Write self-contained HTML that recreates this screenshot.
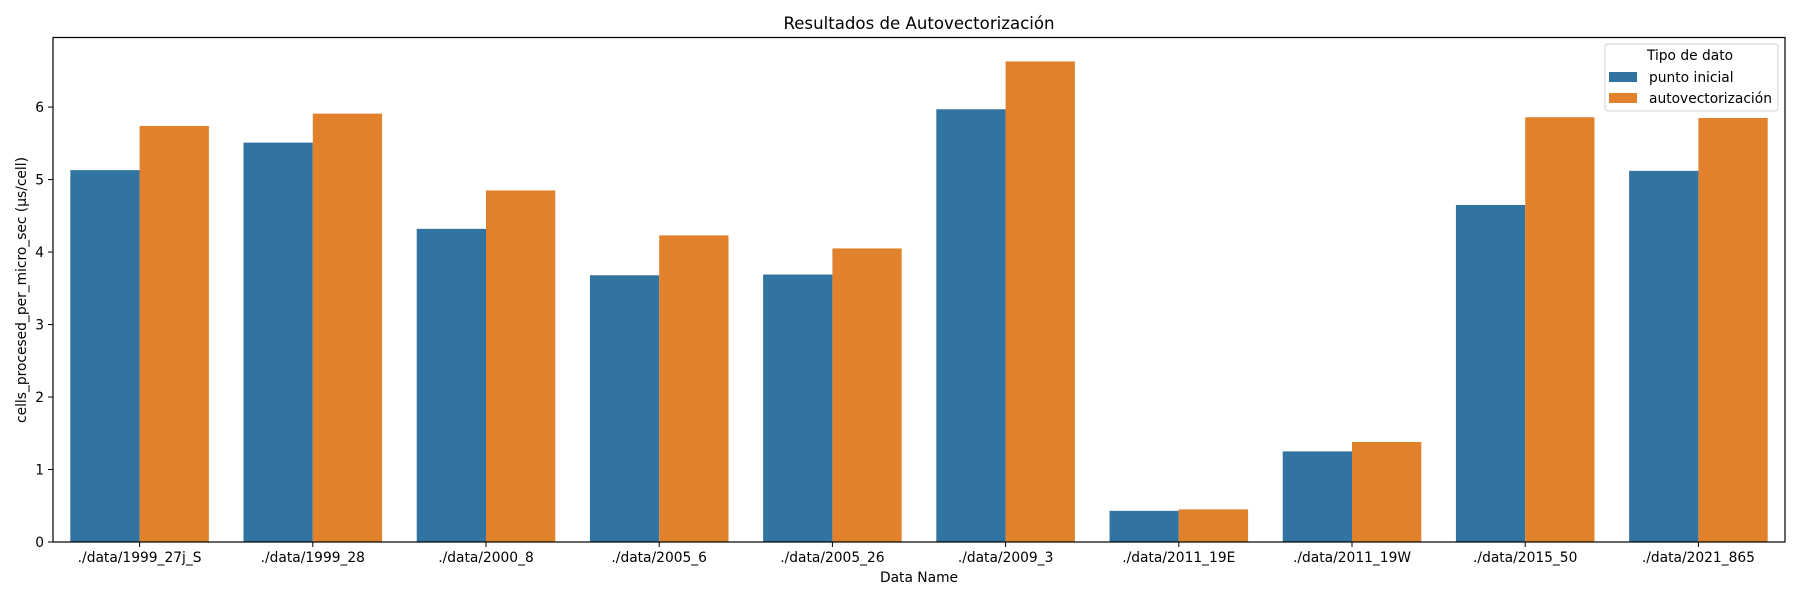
<!DOCTYPE html>
<html><head><meta charset="utf-8"><style>
html,body{margin:0;padding:0;background:#fff;}
svg{display:block;font-family:"DejaVu Sans","Liberation Sans",sans-serif;}
</style></head><body>
<svg id="chart" width="1800" height="600" viewBox="0 0 1800 600"></svg>
<script>
const categories = ["./data/1999_27j_S","./data/1999_28","./data/2000_8","./data/2005_6","./data/2005_26","./data/2009_3","./data/2011_19E","./data/2011_19W","./data/2015_50","./data/2021_865"];
const puntoInicial = [5.13,5.51,4.32,3.68,3.69,5.97,0.43,1.25,4.65,5.12];
const autovect = [5.74,5.91,4.85,4.23,4.05,6.63,0.45,1.38,5.86,5.85];
const yTicks = [0,1,2,3,4,5,6];
const seriesNames = ["punto inicial","autovectorización"];

const NS="http://www.w3.org/2000/svg";
const svg=document.getElementById('chart');
const L=53,R=1785,T=37.5,B=542,YMAX=6.96;
const xBand=i=>L+(R-L)/categories.length*i;
const bw=(R-L)/categories.length;
const y=v=>B-(B-T)*v/YMAX;
function mk(tag,attrs,parent){const e=document.createElementNS(NS,tag);for(const k in attrs)e.setAttribute(k,attrs[k]);(parent||svg).appendChild(e);return e;}
function txt(s,attrs){const e=mk('text',attrs);e.textContent=s;return e;}

const colors=["#3274a1","#e1812c"];
[puntoInicial,autovect].forEach((arr,si)=>{
  arr.forEach((v,i)=>{
    const x0=xBand(i)+bw*0.1+si*bw*0.4;
    const r=mk('rect',{x:x0,y:y(v),width:bw*0.4,height:B-y(v),fill:colors[si]});
    
    
  });
});
const fr=mk('rect',{x:L,y:T,width:R-L,height:B-T,fill:'none',stroke:'#000','stroke-width':1.2});


yTicks.forEach(t=>{
  mk('line',{x1:L-5,x2:L,y1:y(t),y2:y(t),stroke:'#000'});
  const e=txt(String(t),{x:L-9,y:y(t)+5,'text-anchor':'end','font-size':13.8,fill:'#000'});
  
  
});
categories.forEach((c,i)=>{
  const cx=xBand(i)+bw/2;
  mk('line',{x1:cx,x2:cx,y1:B,y2:B+5,stroke:'#000'});
  const e=txt(c,{x:cx,y:B+20,'text-anchor':'middle','font-size':13.8,fill:'#000'});
  
  
});
</script>
<script>
(function(){
const svg=document.getElementById('chart');
const NS="http://www.w3.org/2000/svg";
function t(s,a,name){const e=document.createElementNS(NS,'text');for(const k in a)e.setAttribute(k,a[k]);e.textContent=s;svg.appendChild(e);

return e;}
t("Resultados de Autovectorización",{x:919,y:29,'text-anchor':'middle','font-size':16.6},'chart-title');
t("Data Name",{x:919,y:582,'text-anchor':'middle','font-size':13.8},'x-axis-title');
t("cells_procesed_per_micro_sec (µs/cell)",{x:0,y:0,'text-anchor':'middle','font-size':13.8,transform:'translate(26,290) rotate(-90)'},'y-axis-title');
const g=document.createElementNS(NS,'g');svg.appendChild(g);


const box=document.createElementNS(NS,'rect');
[['x',1605],['y',44],['width',173],['height',67],['rx',3],['fill','#fff'],['fill-opacity',0.8],['stroke','#d0d0d0']].forEach(([k,v])=>box.setAttribute(k,v));
g.appendChild(box);
t("Tipo de dato",{x:1690,y:60,'text-anchor':'middle','font-size':13.8},'legend-title');
const cols=["#3274a1","#e1812c"];const names=["punto inicial","autovectorización"];
names.forEach((n,i)=>{
  const r=document.createElementNS(NS,'rect');
  [['x',1609],['y',72+i*21],['width',28],['height',10],['fill',cols[i]]].forEach(([k,v])=>r.setAttribute(k,v));
  svg.appendChild(r);
  
  
  t(n,{x:1649,y:82+i*21,'font-size':13.8},'legend-entry-'+i);
});
})();
</script>
</body></html>
